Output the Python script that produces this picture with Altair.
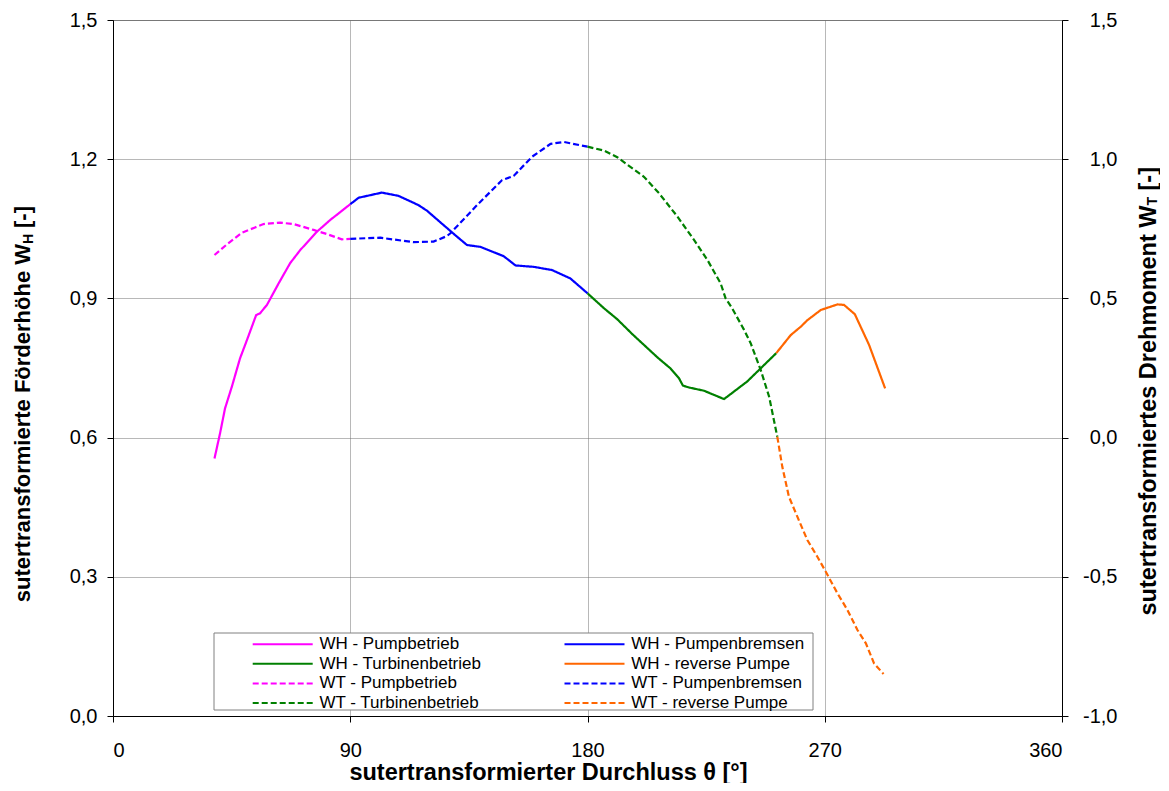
import altair as alt
import pandas as pd

# ---------------- data ----------------
# legend order (Vega fills the 2 legend columns top-to-bottom)
series_names = [
    "WH - Pumpbetrieb", "WH - Turbinenbetrieb",
    "WT - Pumpbetrieb", "WT - Turbinenbetrieb",
    "WH - Pumpenbremsen", "WH - reverse Pumpe",
    "WT - Pumpenbremsen", "WT - reverse Pumpe",
]
series_colors = ["#FF00FF", "#008000", "#FF00FF", "#008000",
                 "#0000FF", "#FF6600", "#0000FF", "#FF6600"]
series_dashes = [[1, 0], [1, 0], [6, 3], [6, 3],
                 [1, 0], [1, 0], [6, 3], [6, 3]]

wh_pump_theta = [38.5, 40.6, 42.5, 45.1, 48.2, 50.8, 54.3, 55.8, 58.4, 62.8, 67.2, 71.0, 77.4, 82.4, 90.0]
wh_pump = [0.555, 0.609, 0.663, 0.710, 0.771, 0.810, 0.864, 0.868, 0.886, 0.932, 0.976, 1.004, 1.044, 1.069, 1.103]

wh_brems_theta = [90.0, 93.2, 102.0, 108.3, 115.9, 119.1, 125.4, 130.5, 134.3, 139.4, 148.2, 152.7, 159.6, 166.6, 173.5, 180.0]
wh_brems = [1.103, 1.117, 1.128, 1.121, 1.101, 1.089, 1.058, 1.033, 1.015, 1.011, 0.991, 0.971, 0.968, 0.961, 0.943, 0.911]

wh_turb_theta = [180.0, 186.2, 191.3, 197.0, 206.5, 211.5, 214.7, 216.2, 218.5, 224.2, 231.8, 240.6, 251.6]
wh_turb = [0.911, 0.879, 0.855, 0.823, 0.773, 0.749, 0.728, 0.712, 0.708, 0.701, 0.683, 0.721, 0.782]

wh_rev_theta = [251.6, 257.1, 260.9, 263.4, 268.5, 274.8, 277.3, 281.4, 286.8, 289.4, 292.9]
wh_rev = [0.782, 0.821, 0.839, 0.853, 0.875, 0.887, 0.886, 0.866, 0.800, 0.760, 0.706]

wt_pump_theta = [38.5, 43.2, 48.9, 57.1, 63.4, 68.5, 76.1, 81.2, 86.8, 90.0]
wt_pump = [0.656, 0.694, 0.736, 0.767, 0.772, 0.767, 0.746, 0.731, 0.712, 0.714]

wt_brems_theta = [90.0, 101.4, 114.0, 121.6, 126.7, 128.0, 138.1, 147.6, 152.0, 159.0, 166.0, 171.0, 180.0]
wt_brems = [0.714, 0.718, 0.702, 0.704, 0.724, 0.734, 0.835, 0.925, 0.940, 1.009, 1.055, 1.062, 1.045]

wt_turb_theta = [180.0, 186.2, 191.3, 201.4, 207.1, 214.1, 220.4, 225.5, 230.5, 232.4, 234.9, 239.4, 241.9, 245.7, 248.9, 252.0]
wt_turb = [1.045, 1.031, 1.007, 0.937, 0.878, 0.794, 0.710, 0.638, 0.554, 0.500, 0.464, 0.387, 0.339, 0.243, 0.147, 0.003]

wt_rev_theta = [252.0, 253.9, 256.4, 259.6, 263.4, 267.2, 270.4, 274.8, 278.6, 282.4, 285.6, 288.7, 292.3]
wt_rev = [0.003, -0.105, -0.212, -0.284, -0.368, -0.428, -0.482, -0.559, -0.619, -0.691, -0.739, -0.811, -0.849]

x_ticks = [0, 90, 180, 270, 360]
left_ticks = [0.0, 0.3, 0.6, 0.9, 1.2, 1.5]
right_ticks = [-1.0, -0.5, 0.0, 0.5, 1.0, 1.5]

x_title = "sutertransformierter Durchluss θ [°]"
left_title_main, left_title_sub, left_title_end = "sutertransformierte Förderhöhe W", "H", "[-]"
right_title_main, right_title_sub, right_title_end = "sutertransformiertes Drehmoment W", "T", "[-]"


def frame(name, th, vals):
    return pd.DataFrame({"series": name, "theta": th, "v": vals})


wh_df = pd.concat([
    frame("WH - Pumpbetrieb", wh_pump_theta, wh_pump),
    frame("WH - Pumpenbremsen", wh_brems_theta, wh_brems),
    frame("WH - Turbinenbetrieb", wh_turb_theta, wh_turb),
    frame("WH - reverse Pumpe", wh_rev_theta, wh_rev),
], ignore_index=True)

wt_df = pd.concat([
    frame("WT - Pumpbetrieb", wt_pump_theta, wt_pump),
    frame("WT - Pumpenbremsen", wt_brems_theta, wt_brems),
    frame("WT - Turbinenbetrieb", wt_turb_theta, wt_turb),
    frame("WT - reverse Pumpe", wt_rev_theta, wt_rev),
], ignore_index=True)

FONT = "Liberation Sans"
W, H = 949, 696
NUM = "replace(replace(format(datum.value, '.1f'), '.', ','), '\u2212', '-')"

legend = alt.Legend(
    orient="none", legendX=139.7, legendY=615.5, columns=2, columnPadding=78.8,
    rowPadding=1.7, symbolType="M-4,0H4", symbolSize=225, symbolStrokeWidth=2,
    symbolOffset=21.5, labelOffset=28.2,
    labelFontSize=17, labelFont=FONT, labelColor="black",
    labelLimit=400, title=None, padding=0,
)

color = alt.Color("series:N", scale=alt.Scale(domain=series_names, range=series_colors), legend=legend)
dash = alt.StrokeDash("series:N", scale=alt.Scale(domain=series_names, range=series_dashes), legend=legend)

x_enc = alt.X(
    "theta:Q",
    scale=alt.Scale(domain=[0, 360], nice=False, zero=False),
    axis=alt.Axis(values=x_ticks, title=x_title, grid=True, labelPadding=18,
                  titleX=435, titleY=63, titleBaseline="alphabetic", titleAlign="center",
                  titleFontSize=23.5, titleFont=FONT, titleFontWeight="bold"),
)

left = alt.Chart(wh_df).mark_line(strokeWidth=2.2).encode(
    x=x_enc,
    y=alt.Y("v:Q", scale=alt.Scale(domain=[0, 1.5], nice=False, zero=False),
            axis=alt.Axis(values=left_ticks, orient="left", grid=True, title=None,
                          labelPadding=10, labelExpr=NUM)),
    color=color, strokeDash=dash,
)

right = alt.Chart(wt_df).mark_line(strokeWidth=2.2).encode(
    x=x_enc,
    y=alt.Y("v:Q", scale=alt.Scale(domain=[-1, 1.5], nice=False, zero=False),
            axis=alt.Axis(values=right_ticks, orient="right", grid=False, title=None,
                          labelAlign="right", labelPadding=49, labelExpr=NUM)),
    color=color, strokeDash=dash,
)

box = alt.Chart(pd.DataFrame({"k": [0]})).mark_rect(
    fill="white", stroke="#808080", strokeWidth=1
).encode(x=alt.value(101), x2=alt.value(700), y=alt.value(613), y2=alt.value(690))


def txt(text, x, y, size, align):
    return alt.Chart(pd.DataFrame({"k": [0]})).mark_text(
        text=text, angle=270, align=align, baseline="middle", font=FONT,
        fontWeight="bold", fontSize=size, color="black",
    ).encode(x=alt.value(x), y=alt.value(y))


titles = [
    txt(left_title_main, -90, 224, 22, "right"),
    txt(left_title_sub, -84, 224, 14, "left"),
    txt(left_title_end, -90, 208, 22, "left"),
    txt(right_title_main, 1035.5, 185.5, 23.5, "right"),
    txt(right_title_sub, 1040, 185.5, 14, "left"),
    txt(right_title_end, 1035.5, 170.5, 23.5, "left"),
]

chart = alt.layer(left, right, box, *titles).resolve_scale(y="independent").properties(
    width=W, height=H,
    autosize=alt.AutoSizeParams(type="none"),
    padding={"left": 105, "top": 12, "right": 98, "bottom": 67},
).configure_view(stroke="#808080", strokeWidth=1).configure_axis(
    domainColor="black", domainWidth=1, tickColor="black", tickSize=6,
    labelFont=FONT, labelFontSize=20, labelColor="black",
    gridColor="#707070", gridDash=[1, 1], gridWidth=1,
    titleColor="black",
)

chart.save("out.html", embed_options={"renderer": "svg", "actions": False})
